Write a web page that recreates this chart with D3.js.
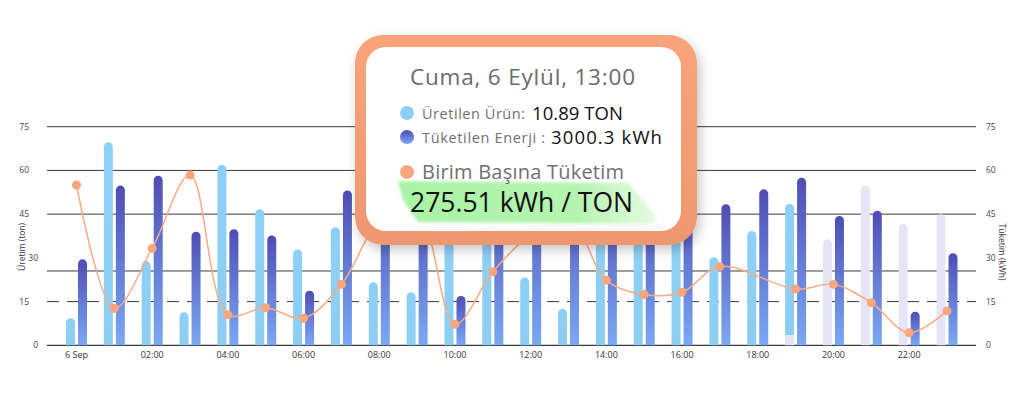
<!DOCTYPE html>
<html>
<head>
<meta charset="utf-8">
<script src="https://cdn.jsdelivr.net/npm/d3@7/dist/d3.min.js"></script>
<style>
html,body{margin:0;padding:0;background:#fff;}
svg{display:block;font-family:"Open Sans",sans-serif;}
</style>
</head>
<body>
<svg id="chart" width="1024" height="411"></svg>
<script>
// ---- data ----
const hours = d3.range(0, 24);
const xTickHours = [0, 2, 4, 6, 8, 10, 12, 14, 16, 18, 20, 22];
const xTickLabels = ["6 Sep", "02:00", "04:00", "06:00", "08:00", "10:00", "12:00", "14:00", "16:00", "18:00", "20:00", "22:00"];
const yTicks = [0, 15, 30, 45, 60, 75];
const gridSolid = [75, 60, 45, 25.5];
const gridDashed = [15];
// Üretilen ürün (ton) – actual
const uretim = [9.3, 69.7, 28.9, 11.3, 61.9, 46.7, 32.9, 40.5, 21.6, 18.2, 40, 45, 23.3, 12.5, 50, 45, 38, 30.2, 39.2, 45, null, null, null, null];
// forecast / placeholder (pale)
const tahmin = [null, null, null, null, null, null, null, null, null, null, null, null, null, null, null, null, null, null, null, 3.5, 36.4, 54.7, 41.6, 45];
// Tüketilen enerji
const tuketim = [29.5, 54.8, 58.2, 39, 39.8, 37.7, 18.7, 53.1, 52, 50, 16.9, 55, 60, 58, 52, 50, 52, 48.4, 53.5, 57.5, 44.4, 46.2, 11.5, 31.6];
// Birim başına tüketim
const birim = [55, 12.7, 33.3, 58.4, 10.5, 12.9, 9.3, 20.9, 42, 46, 7.2, 25.2, 38, 44, 22.3, 17.4, 18.2, 27, null, 19.3, 20.9, 14.6, 4.3, 11.8];

const tipTitle = "Cuma, 6 Eylül, 13:00";
const tipRows = [
  {label: "Üretilen Ürün:", value: "10.89 TON"},
  {label: "Tüketilen Enerji :", value: "3000.3 kWh"}
];
const tipUnitLabel = "Birim Başına Tüketim";
const tipUnitValue = "275.51 kWh / TON";

// ---- chart ----
const svg = d3.select("#chart");
const x = d3.scaleLinear().domain([0, 23]).range([76.5, 947]);
const y = d3.scaleLinear().domain([0, 75]).range([345.3, 126.7]);
const plotL = 47, plotR = 976;

const defs = svg.append("defs");
const g1 = defs.append("linearGradient").attr("id", "darkGrad").attr("x1", 0).attr("y1", 0).attr("x2", 0).attr("y2", 1);
g1.append("stop").attr("offset", "0%").attr("stop-color", "#4f4db4");
g1.append("stop").attr("offset", "100%").attr("stop-color", "#7aa9f4");
const g2 = defs.append("linearGradient").attr("id", "lightGrad").attr("x1", 0).attr("y1", 0).attr("x2", 0).attr("y2", 1);
g2.append("stop").attr("offset", "0%").attr("stop-color", "#8dd0f7");
g2.append("stop").attr("offset", "100%").attr("stop-color", "#8ecdf2");
const g3 = defs.append("linearGradient").attr("id", "greenGrad").attr("x1", 0).attr("y1", 0).attr("x2", 1).attr("y2", 0);
g3.append("stop").attr("offset", "0%").attr("stop-color", "#9ff29a").attr("stop-opacity", 0.9);
g3.append("stop").attr("offset", "70%").attr("stop-color", "#a8f2a2").attr("stop-opacity", 0.85);
g3.append("stop").attr("offset", "100%").attr("stop-color", "#c6f7c0").attr("stop-opacity", 0.5);
const g4 = defs.append("linearGradient").attr("id", "borderGrad").attr("x1", 0).attr("y1", 0).attr("x2", 0).attr("y2", 1);
g4.append("stop").attr("offset", "0%").attr("stop-color", "#f9a47a");
g4.append("stop").attr("offset", "100%").attr("stop-color", "#ef9770");
const f = defs.append("filter").attr("id", "shadow").attr("x", "-20%").attr("y", "-20%").attr("width", "150%").attr("height", "160%");
f.append("feDropShadow").attr("dx", 3).attr("dy", 5).attr("stdDeviation", 6).attr("flood-color", "#000").attr("flood-opacity", 0.22);
const f2 = defs.append("filter").attr("id", "blurG").attr("x", "-10%").attr("y", "-30%").attr("width", "120%").attr("height", "160%");
f2.append("feGaussianBlur").attr("stdDeviation", 1.5);

// grid
const grid = svg.append("g");
grid.selectAll(".gs").data(gridSolid).enter().append("line")
  .attr("x1", plotL).attr("x2", plotR).attr("y1", d => y(d)).attr("y2", d => y(d))
  .attr("stroke", "#3a3a3a").attr("stroke-width", 1);
grid.selectAll(".gd").data(gridDashed).enter().append("line")
  .attr("x1", plotL).attr("x2", plotR).attr("y1", d => y(d)).attr("y2", d => y(d))
  .attr("stroke", "#3a3a3a").attr("stroke-width", 1).attr("stroke-dasharray", "12,8");
grid.append("line").attr("x1", plotL).attr("x2", plotR).attr("y1", y(0)).attr("y2", y(0))
  .attr("stroke", "#3a3a3a").attr("stroke-width", 1.2);

// y labels
svg.append("g").selectAll("text").data(yTicks).enter().append("text")
  .attr("x", d => (d === 30 || d === 0) ? 38 : 29).attr("y", d => y(d) + 3).attr("text-anchor", "end")
  .attr("font-size", 8.5).attr("fill", "#444").text(d => d);
svg.append("g").selectAll("text").data(yTicks).enter().append("text")
  .attr("x", 986).attr("y", d => y(d) + 3).attr("text-anchor", "start")
  .attr("font-size", 8.5).attr("fill", "#444").text(d => d);
svg.append("text").attr("transform", "translate(25,247) rotate(-90)").attr("text-anchor", "middle")
  .attr("font-size", 8.5).attr("fill", "#333").text("Üretim (ton)");
svg.append("text").attr("transform", "translate(999,252) rotate(90)").attr("text-anchor", "middle")
  .attr("font-size", 8.5).attr("fill", "#333").text("Tüketim (kWh)");

// x labels
svg.append("g").selectAll("text").data(xTickHours).enter().append("text")
  .attr("x", d => x(d)).attr("y", 358).attr("text-anchor", "middle")
  .attr("font-size", 9).attr("fill", "#333").text((d, i) => xTickLabels[i]);

// bars
const bw = 9, gap = 1.5;
function topRounded(x0, y0, w, yb) {
  const h = yb - y0;
  const r = Math.min(w / 2, h);
  return `M${x0},${yb}V${y0 + r}A${r},${r} 0 0 1 ${x0 + r},${y0}H${x0 + w - r}A${r},${r} 0 0 1 ${x0 + w},${y0 + r}V${yb}Z`;
}
const bars = svg.append("g");
bars.selectAll(".fc").data(hours.filter(h => tahmin[h] != null)).enter().append("path")
  .attr("d", h => {
    const top = tahmin[h] + (uretim[h] || 0);
    if (uretim[h] != null) {
      return `M${x(h) - gap - bw},${y(0)}V${y(tahmin[h])}H${x(h) - gap}V${y(0)}Z`;
    }
    return topRounded(x(h) - gap - bw, y(top), bw, y(0));
  })
  .attr("fill", "#e5e5f5");
bars.selectAll(".lt").data(hours.filter(h => uretim[h] != null)).enter().append("path")
  .attr("d", h => {
    const base = tahmin[h] || 0;
    return topRounded(x(h) - gap - bw, y(base + uretim[h]), bw, y(base));
  })
  .attr("fill", "url(#lightGrad)");
bars.selectAll(".dk").data(hours.filter(h => tuketim[h] != null)).enter().append("path")
  .attr("d", h => topRounded(x(h) + gap, y(tuketim[h]), bw, y(0)))
  .attr("fill", "url(#darkGrad)");

// line
const pts = hours.filter(h => birim[h] != null);
const line = d3.line().x(h => x(h)).y(h => y(birim[h])).curve(d3.curveCatmullRom.alpha(0.5));
svg.append("path").attr("d", line(pts)).attr("fill", "none").attr("stroke", "#f8ab84").attr("stroke-width", 1.5);
svg.append("g").selectAll("circle").data(pts).enter().append("circle")
  .attr("cx", h => x(h)).attr("cy", h => y(birim[h])).attr("r", 4.5).attr("fill", "#f9a57d");

// tooltip
const tip = svg.append("g");
tip.append("rect").attr("x", 355).attr("y", 35).attr("width", 342).attr("height", 210).attr("rx", 28)
  .attr("fill", "url(#borderGrad)").attr("filter", "url(#shadow)");
tip.append("rect").attr("x", 366).attr("y", 47).attr("width", 315).attr("height", 184).attr("rx", 20)
  .attr("fill", "#fff");
tip.append("polygon")
  .attr("points", "398,181 628,183 657,217 652,224 418,222 403,200")
  .attr("fill", "url(#greenGrad)").attr("filter", "url(#blurG)");

function fitText(sel, target) {
  const w = sel.node().getComputedTextLength();
  const n = sel.text().length;
  if (n > 1) sel.attr("letter-spacing", ((target - w) / (n - 1)).toFixed(2));
  return sel;
}
fitText(tip.append("text").attr("x", 410).attr("y", 85)
  .attr("font-size", 22.5).attr("fill", "#6b6b6b").text(tipTitle), 225);
const rowY = [119, 143];
const rowColors = ["#8ecff5", "url(#darkGrad)"];
const labelW = [103, 123];
const valueX = [532, 551];
const valueW = [91, 111];
tipRows.forEach((r, i) => {
  tip.append("circle").attr("cx", 407).attr("cy", rowY[i] - 6).attr("r", 7).attr("fill", rowColors[i]);
  fitText(tip.append("text").attr("x", 422).attr("y", rowY[i]).attr("font-size", 14.5).attr("fill", "#707070").text(r.label), labelW[i]);
  fitText(tip.append("text").attr("x", valueX[i]).attr("y", rowY[i] + 0.5).attr("font-size", 18.5).attr("fill", "#111").text(r.value), valueW[i]);
});
tip.append("circle").attr("cx", 407).attr("cy", 172).attr("r", 7).attr("fill", "#f9a57d");
fitText(tip.append("text").attr("x", 422).attr("y", 179).attr("font-size", 20).attr("fill", "#707070").text(tipUnitLabel), 202);
fitText(tip.append("text").attr("x", 410).attr("y", 212).attr("font-size", 26.5).attr("fill", "#111").text(tipUnitValue), 223);
</script>
</body>
</html>
